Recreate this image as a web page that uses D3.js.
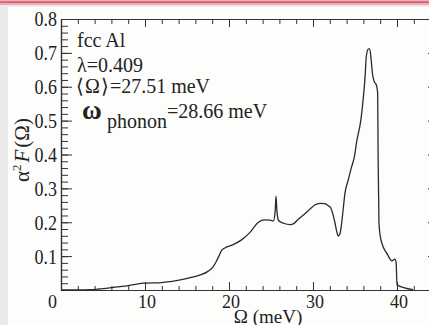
<!DOCTYPE html>
<html>
<head>
<meta charset="utf-8">
<script src="https://cdn.jsdelivr.net/npm/d3@7"></script>
<style>
  body { margin: 0; background: #fff; }
  svg { display: block; }
  text { font-family: "Liberation Serif", "Times New Roman", serif; fill: #222; }
</style>
</head>
<body>
<div id="chart"></div>
<script>
// Eliashberg function of fcc Al
const omega = [0, 2, 3.5, 4.5, 6, 8, 9.8, 12, 13, 14.2, 15.5, 16.5, 17.5, 18.1, 18.5, 18.8,
  19.1, 19.5, 20.5, 21.5, 22.5, 23.5, 24.2, 24.9, 25.3, 25.5, 25.6, 25.7, 25.9, 26.5,
  27.3, 27.7, 28.3, 28.9, 29.6, 30.2, 30.8, 31.4, 31.9, 32.1, 32.3, 32.6, 32.85, 33.0,
  33.2, 33.4, 33.6, 33.8, 34.2, 34.6, 34.9, 35.2, 35.7, 36.0, 36.2, 36.35, 36.6, 36.75,
  36.9, 37.1, 37.3, 37.55, 37.7, 37.75, 37.85, 38.0, 38.2, 38.8, 39.4, 39.75, 39.9,
  40.0, 41.9];
const a2F = [0, 0, 0.001, 0.003, 0.007, 0.013, 0.02, 0.022, 0.025, 0.03, 0.037, 0.044, 0.055,
  0.068, 0.085, 0.1, 0.116, 0.124, 0.134, 0.148, 0.17, 0.2, 0.207, 0.206, 0.204, 0.235,
  0.277, 0.235, 0.205, 0.197, 0.193, 0.196, 0.21, 0.222, 0.238, 0.251, 0.256, 0.255,
  0.247, 0.243, 0.23, 0.2, 0.17, 0.159, 0.165, 0.195, 0.24, 0.285, 0.325, 0.364, 0.39,
  0.438, 0.502, 0.57, 0.63, 0.69, 0.712, 0.712, 0.685, 0.635, 0.615, 0.605, 0.58, 0.4,
  0.2, 0.16, 0.138, 0.108, 0.086, 0.091, 0.08, 0.015, 0.001];

const xMajor = [0, 10, 20, 30, 40];
const xMinor = d3.range(0, 46, 2);
const yMajor = [0.1, 0.2, 0.3, 0.4, 0.5, 0.6, 0.7, 0.8];
const yMinor = d3.range(0, 0.801, 0.02);

const width = 429, height = 325;
const padL = 61, padR = 439, padT = 19, padB = 290;

const svg = d3.select("#chart").append("svg")
  .attr("width", width).attr("height", height);

// page background bits around the figure
svg.append("rect").attr("width", width).attr("height", height).attr("fill", "#fdfdfc");
svg.append("rect").attr("x", 0).attr("y", 0).attr("width", 8).attr("height", height).attr("fill", "#e9e9e9");
svg.append("rect").attr("x", 0).attr("y", 0).attr("width", width).attr("height", 7).attr("fill", "#f3eff0");
svg.append("rect").attr("x", 0).attr("y", 0).attr("width", width).attr("height", 1.2).attr("fill", "#eab3ba");
svg.append("rect").attr("x", 0).attr("y", 1.2).attr("width", width).attr("height", 2.2).attr("fill", "#d65d6b");
svg.append("rect").attr("x", 0).attr("y", 3.4).attr("width", width).attr("height", 1.8).attr("fill", "#eeaab2");

const x = d3.scaleLinear().domain([0, 45]).range([padL, padR]);
const y = d3.scaleLinear().domain([0, 0.8]).range([padB, padT]);

function styleAxis(g) {
  g.select(".domain").attr("stroke", "#333").attr("stroke-width", 1.2);
  g.selectAll(".tick line").attr("stroke", "#333").attr("stroke-width", 1);
}

// bottom
svg.append("g").attr("transform", `translate(0,${padB})`)
  .call(d3.axisBottom(x).tickValues(xMinor).tickSize(-4).tickFormat("").tickSizeOuter(0))
  .call(styleAxis);
const xAx = svg.append("g").attr("transform", `translate(0,${padB})`)
  .call(d3.axisBottom(x).tickValues(xMajor).tickSize(-8).tickPadding(4).tickSizeOuter(0))
  .call(styleAxis);
xAx.selectAll(".tick text")
  .attr("font-size", 18).attr("font-family", "Liberation Serif").attr("fill", "#222")
  .attr("dx", d => d === 0 ? -9 : 1.5)
  .attr("transform", "scale(1,1.08)");

// top
svg.append("g").attr("transform", `translate(0,${padT})`)
  .call(d3.axisTop(x).tickValues(xMinor).tickSize(-5).tickFormat("").tickSizeOuter(0))
  .call(styleAxis);
svg.append("g").attr("transform", `translate(0,${padT})`)
  .call(d3.axisTop(x).tickValues(xMajor).tickSize(-8).tickFormat("").tickSizeOuter(0))
  .call(styleAxis);

// left
svg.append("g").attr("transform", `translate(${padL},0)`)
  .call(d3.axisLeft(y).tickValues(yMinor).tickSize(-7).tickFormat("").tickSizeOuter(0))
  .call(styleAxis);
const yAx = svg.append("g").attr("transform", `translate(${padL},0)`)
  .call(d3.axisLeft(y).tickValues(yMajor).tickSize(-11).tickPadding(4)
    .tickFormat(d3.format(".1f")).tickSizeOuter(0))
  .call(styleAxis);
yAx.selectAll(".tick text")
  .attr("font-size", 18).attr("font-family", "Liberation Serif").attr("fill", "#222")
  .attr("transform", "scale(1,1.2)");

// right
svg.append("g").attr("transform", `translate(${padR},0)`)
  .call(d3.axisRight(y).tickValues(yMinor).tickSize(-7).tickFormat("").tickSizeOuter(0))
  .call(styleAxis);
svg.append("g").attr("transform", `translate(${padR},0)`)
  .call(d3.axisRight(y).tickValues(yMajor).tickSize(-11).tickFormat("").tickSizeOuter(0))
  .call(styleAxis);

// curve
const pts = omega.map((o, i) => [o, a2F[i]]);
svg.append("path")
  .datum(pts)
  .attr("fill", "none")
  .attr("stroke", "#2a2a2a")
  .attr("stroke-width", 1.3)
  .attr("stroke-linejoin", "round")
  .attr("d", d3.line().x(d => x(d[0])).y(d => y(d[1])).curve(d3.curveMonotoneX));

// annotations
const ann = svg.append("g").attr("font-size", 20);
ann.append("text").attr("x", 77).attr("y", 46.5).text("fcc Al");
ann.append("text").attr("x", 77).attr("y", 71.5).text("λ=0.409");
const avg = ann.append("text").attr("x", 76).attr("y", 92.5);
avg.append("tspan").text("⟨");
avg.append("tspan").attr("dx", 1).text("Ω");
avg.append("tspan").attr("dx", 1).text("⟩");
avg.append("tspan").attr("dx", 1).text("=27.51 meV");
ann.append("text").attr("x", 82).attr("y", 119).attr("font-size", 27)
  .attr("font-weight", "bold").text("ω");
ann.append("text").attr("x", 107).attr("y", 127.5).attr("font-size", 20).text("phonon");
ann.append("text").attr("x", 167).attr("y", 117.5).attr("font-size", 20).text("=28.66 meV");

// axis titles
const yl = svg.append("text")
  .attr("transform", "translate(29,150) rotate(-90)")
  .attr("text-anchor", "middle").attr("font-size", 21);
yl.append("tspan").text("α");
yl.append("tspan").attr("font-size", 13).attr("dy", -8).text("2");
yl.append("tspan").attr("dy", 8).attr("dx", 2).attr("font-style", "italic").text("F");
yl.append("tspan").attr("dx", 2).text("(Ω)");

svg.append("text")
  .attr("x", 268).attr("y", 323)
  .attr("text-anchor", "middle").attr("font-size", 19)
  .text("Ω (meV)");
</script>
</body>
</html>
